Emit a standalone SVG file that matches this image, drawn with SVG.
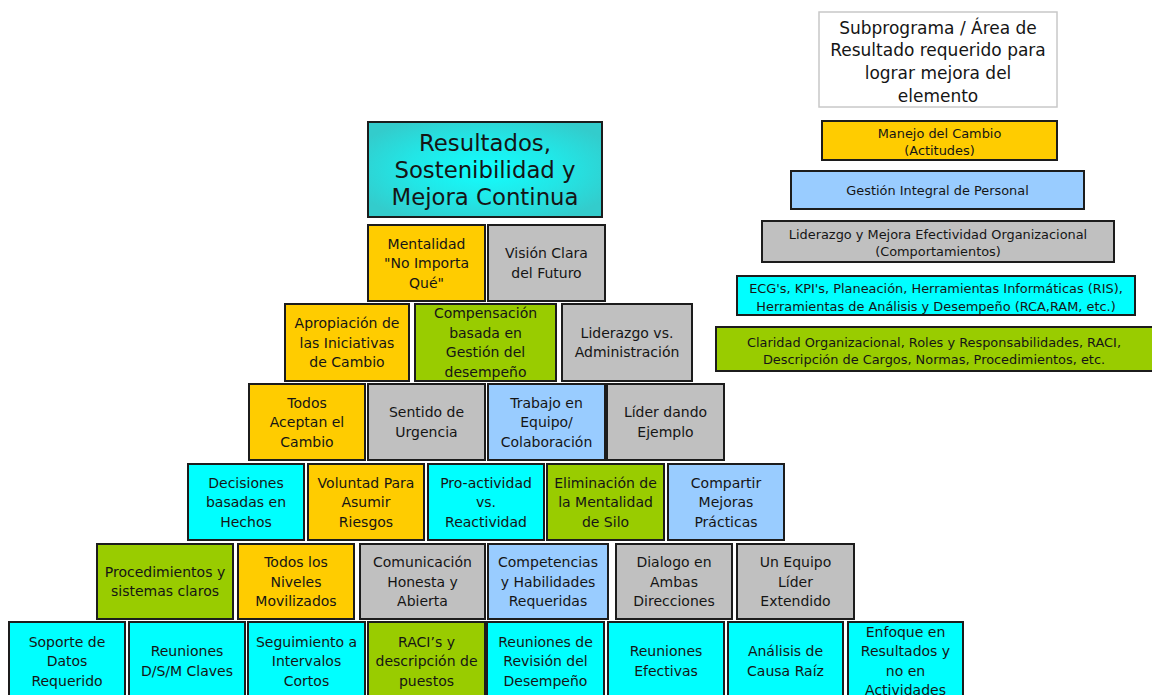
<svg xmlns="http://www.w3.org/2000/svg" width="1152" height="695" viewBox="0 0 1152 695">
<defs>
<radialGradient id="topg" cx="0.5" cy="0.5" r="0.6">
<stop offset="0" stop-color="#12FFFF"/>
<stop offset="0.55" stop-color="#22E6E6"/>
<stop offset="1" stop-color="#33CCCC"/>
</radialGradient>
<style>
.b{stroke:#1c1c1c;stroke-width:2}
.gold{fill:#FFCC00}.gray{fill:#C0C0C0}.lb{fill:#99CCFF}.cy{fill:#00FFFF}.gr{fill:#99CC00}
text{font-family:"DejaVu Sans",Verdana,sans-serif;fill:#151515;text-anchor:middle}
.t{font-size:14px}
.lg{font-size:12.9px}
.hd{font-size:17px}
.top{font-size:22.8px}
</style>
</defs>
<rect width="1152" height="695" fill="#ffffff"/>

<g id="legend-title"><rect x="819" y="12" width="238" height="95" fill="#ffffff" stroke="#c8c8c8" stroke-width="1.5"/>
<text class="hd" x="938"><tspan x="938" y="33.5">Subprograma / Área de</tspan><tspan x="938" y="56">Resultado requerido para</tspan><tspan x="938" y="79">lograr mejora del</tspan><tspan x="938" y="101.5">elemento</tspan></text></g>
<g id="legend-manejo"><rect class="b gold" x="822" y="121" width="235" height="39" stroke-width="1.5"/>
<text class="lg"><tspan x="939.5" y="138">Manejo del Cambio</tspan><tspan x="939.5" y="154.5">(Actitudes)</tspan></text></g>
<g id="legend-gestion"><rect class="b lb" x="791" y="171" width="293" height="38"/>
<text class="lg" x="937.5" y="195">Gestión Integral de Personal</text></g>
<g id="legend-liderazgo"><rect class="b gray" x="762" y="221" width="352" height="41"/>
<text class="lg"><tspan x="938" y="239">Liderazgo y Mejora Efectividad Organizacional</tspan><tspan x="938" y="256">(Comportamientos)</tspan></text></g>
<g id="legend-ecg"><rect class="b cy" x="737" y="276" width="398" height="39"/>
<text class="lg"><tspan x="936" y="293">ECG's, KPI's, Planeación, Herramientas Informáticas (RIS),</tspan><tspan x="936" y="310.5">Herramientas de Análisis y Desempeño (RCA,RAM, etc.)</tspan></text></g>
<g id="legend-claridad"><rect class="b gr" x="716" y="327" width="440" height="44"/>
<text class="lg"><tspan x="934" y="346.5">Claridad Organizacional, Roles y Responsabilidades, RACI,</tspan><tspan x="934" y="364">Descripción de Cargos, Normas, Procedimientos, etc.</tspan></text></g>

<g id="top"><rect class="b" x="368" y="122" width="234" height="95" fill="url(#topg)"/>
<text class="top"><tspan x="485" y="151">Resultados,</tspan><tspan x="485" y="178">Sostenibilidad y</tspan><tspan x="485" y="205">Mejora Continua</tspan></text></g>

<g id="mentalidad"><rect class="b gold" x="368" y="225" width="117" height="76"/>
<text class="t"><tspan x="426.5" y="248.5">Mentalidad</tspan><tspan x="426.5" y="268">"No Importa</tspan><tspan x="426.5" y="287.5">Qué"</tspan></text></g>
<g id="vision"><rect class="b gray" x="488" y="225" width="117" height="76"/>
<text class="t"><tspan x="546.5" y="258.25">Visión Clara</tspan><tspan x="546.5" y="277.75">del Futuro</tspan></text></g>

<g id="apropiacion"><rect class="b gold" x="285" y="304" width="124" height="77"/>
<text class="t"><tspan x="347" y="328">Apropiación de</tspan><tspan x="347" y="347.5">las Iniciativas</tspan><tspan x="347" y="367">de Cambio</tspan></text></g>
<g id="compensacion"><rect class="b gr" x="415" y="304" width="141" height="77"/>
<text class="t"><tspan x="485.5" y="318.25">Compensación</tspan><tspan x="485.5" y="337.75">basada en</tspan><tspan x="485.5" y="357.25">Gestión del</tspan><tspan x="485.5" y="376.75">desempeño</tspan></text></g>
<g id="liderazgo"><rect class="b gray" x="562" y="304" width="130" height="77"/>
<text class="t"><tspan x="627" y="337.75">Liderazgo vs.</tspan><tspan x="627" y="357.25">Administración</tspan></text></g>

<g id="todos-aceptan"><rect class="b gold" x="249" y="384" width="116" height="76"/>
<text class="t"><tspan x="307" y="407.5">Todos</tspan><tspan x="307" y="427">Aceptan el</tspan><tspan x="307" y="446.5">Cambio</tspan></text></g>
<g id="sentido"><rect class="b gray" x="368" y="384" width="117" height="76"/>
<text class="t"><tspan x="426.5" y="417.25">Sentido de</tspan><tspan x="426.5" y="436.75">Urgencia</tspan></text></g>
<g id="trabajo"><rect class="b lb" x="488" y="384" width="117" height="76"/>
<text class="t"><tspan x="546.5" y="407.5">Trabajo en</tspan><tspan x="546.5" y="427">Equipo/</tspan><tspan x="546.5" y="446.5">Colaboración</tspan></text></g>
<g id="lider"><rect class="b gray" x="607" y="384" width="117" height="76"/>
<text class="t"><tspan x="665.5" y="417.25">Líder dando</tspan><tspan x="665.5" y="436.75">Ejemplo</tspan></text></g>

<g id="decisiones"><rect class="b cy" x="188" y="464" width="116" height="76"/>
<text class="t"><tspan x="246" y="487.5">Decisiones</tspan><tspan x="246" y="507">basadas en</tspan><tspan x="246" y="526.5">Hechos</tspan></text></g>
<g id="voluntad"><rect class="b gold" x="308" y="464" width="116" height="76"/>
<text class="t"><tspan x="366" y="487.5">Voluntad Para</tspan><tspan x="366" y="507">Asumir</tspan><tspan x="366" y="526.5">Riesgos</tspan></text></g>
<g id="proactividad"><rect class="b cy" x="428" y="464" width="116" height="76"/>
<text class="t"><tspan x="486" y="487.5">Pro-actividad</tspan><tspan x="486" y="507">vs.</tspan><tspan x="486" y="526.5">Reactividad</tspan></text></g>
<g id="eliminacion"><rect class="b gr" x="547" y="464" width="117" height="76"/>
<text class="t"><tspan x="605.5" y="487.5">Eliminación de</tspan><tspan x="605.5" y="507">la Mentalidad</tspan><tspan x="605.5" y="526.5">de Silo</tspan></text></g>
<g id="compartir"><rect class="b lb" x="668" y="464" width="116" height="76"/>
<text class="t"><tspan x="726" y="487.5">Compartir</tspan><tspan x="726" y="507">Mejoras</tspan><tspan x="726" y="526.5">Prácticas</tspan></text></g>

<g id="procedimientos"><rect class="b gr" x="97" y="544" width="136" height="75"/>
<text class="t"><tspan x="165" y="576.75">Procedimientos y</tspan><tspan x="165" y="596.25">sistemas claros</tspan></text></g>
<g id="todos-niveles"><rect class="b gold" x="238" y="544" width="116" height="75"/>
<text class="t"><tspan x="296" y="567">Todos los</tspan><tspan x="296" y="586.5">Niveles</tspan><tspan x="296" y="606">Movilizados</tspan></text></g>
<g id="comunicacion"><rect class="b gray" x="360" y="544" width="125" height="75"/>
<text class="t"><tspan x="422.5" y="567">Comunicación</tspan><tspan x="422.5" y="586.5">Honesta y</tspan><tspan x="422.5" y="606">Abierta</tspan></text></g>
<g id="competencias"><rect class="b lb" x="488" y="544" width="120" height="75"/>
<text class="t"><tspan x="548" y="567">Competencias</tspan><tspan x="548" y="586.5">y Habilidades</tspan><tspan x="548" y="606">Requeridas</tspan></text></g>
<g id="dialogo"><rect class="b gray" x="616" y="544" width="116" height="75"/>
<text class="t"><tspan x="674" y="567">Dialogo en</tspan><tspan x="674" y="586.5">Ambas</tspan><tspan x="674" y="606">Direcciones</tspan></text></g>
<g id="un-equipo"><rect class="b gray" x="737" y="544" width="117" height="75"/>
<text class="t"><tspan x="795.5" y="567">Un Equipo</tspan><tspan x="795.5" y="586.5">Líder</tspan><tspan x="795.5" y="606">Extendido</tspan></text></g>

<g id="soporte"><rect class="b cy" x="9" y="622" width="116" height="78"/>
<text class="t"><tspan x="67" y="646.5">Soporte de</tspan><tspan x="67" y="666">Datos</tspan><tspan x="67" y="685.5">Requerido</tspan></text></g>
<g id="reuniones-dsm"><rect class="b cy" x="129" y="622" width="116" height="78"/>
<text class="t"><tspan x="187" y="656.25">Reuniones</tspan><tspan x="187" y="675.75">D/S/M Claves</tspan></text></g>
<g id="seguimiento"><rect class="b cy" x="248" y="622" width="117" height="78"/>
<text class="t"><tspan x="306.5" y="646.5">Seguimiento a</tspan><tspan x="306.5" y="666">Intervalos</tspan><tspan x="306.5" y="685.5">Cortos</tspan></text></g>
<g id="raci"><rect class="b gr" x="368" y="622" width="117" height="78"/>
<text class="t"><tspan x="426.5" y="646.5">RACI’s y</tspan><tspan x="426.5" y="666">descripción de</tspan><tspan x="426.5" y="685.5">puestos</tspan></text></g>
<g id="reuniones-revision"><rect class="b cy" x="487" y="622" width="117" height="78"/>
<text class="t"><tspan x="545.5" y="646.5">Reuniones de</tspan><tspan x="545.5" y="666">Revisión del</tspan><tspan x="545.5" y="685.5">Desempeño</tspan></text></g>
<g id="reuniones-efectivas"><rect class="b cy" x="608" y="622" width="116" height="78"/>
<text class="t"><tspan x="666" y="656.25">Reuniones</tspan><tspan x="666" y="675.75">Efectivas</tspan></text></g>
<g id="analisis"><rect class="b cy" x="728" y="622" width="115" height="78"/>
<text class="t"><tspan x="785.5" y="656.25">Análisis de</tspan><tspan x="785.5" y="675.75">Causa Raíz</tspan></text></g>
<g id="enfoque"><rect class="b cy" x="848" y="622" width="115" height="78"/>
<text class="t"><tspan x="905.5" y="636.75">Enfoque en</tspan><tspan x="905.5" y="656.25">Resultados y</tspan><tspan x="905.5" y="675.75">no en</tspan><tspan x="905.5" y="695.25">Actividades</tspan></text></g>

<g id="connectors"></g>
</svg>
